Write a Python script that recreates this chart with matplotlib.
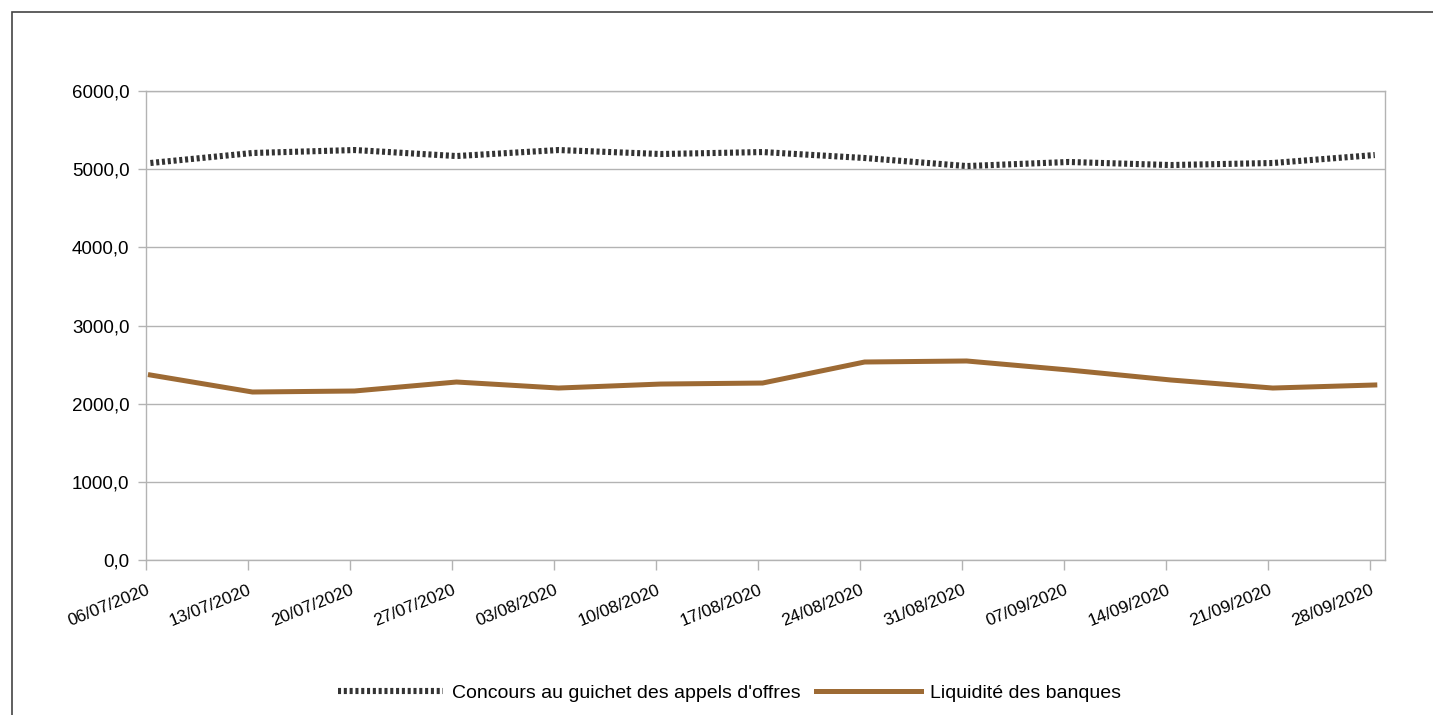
import numpy as np
import matplotlib
matplotlib.use("Agg")
import matplotlib.pyplot as plt
import matplotlib.transforms as mtransforms
from matplotlib.patches import Rectangle
from matplotlib.ticker import FuncFormatter

# Données
dates = ["06/07/2020", "13/07/2020", "20/07/2020", "27/07/2020", "03/08/2020",
         "10/08/2020", "17/08/2020", "24/08/2020", "31/08/2020", "07/09/2020",
         "14/09/2020", "21/09/2020", "28/09/2020"]
concours = [5079, 5207, 5245, 5168, 5245, 5194, 5219, 5143, 5040, 5092, 5053, 5079, 5181]
liquidite = [2367, 2149, 2162, 2277, 2200, 2251, 2264, 2533, 2546, 2431, 2303, 2200, 2239]

plt.rcParams['font.family'] = ['Liberation Sans', 'DejaVu Sans']

jours = np.arange(len(dates)) * 7
grille = '#b3b3b3'

fig = plt.figure(figsize=(14.33, 7.15), dpi=100)
ax = fig.add_axes([0.1019, 0.2168, 0.8646, 0.6559])

ax.plot(jours + 0.3, concours, color='#333333', lw=4.4, dashes=(0.5, 0.45),
        dash_capstyle='butt',
        label="Concours au guichet des appels d'offres")
ax.plot(jours + 0.3, liquidite, color='#9d6a34', lw=3.6,
        solid_joinstyle='miter', label="Liquidité des banques")

ax.set_xlim(0, 85)
ax.set_ylim(0, 6000)
ax.set_yticks(np.arange(0, 6001, 1000))
ax.yaxis.set_major_formatter(FuncFormatter(lambda v, p: f"{v:.1f}".replace('.', ',')))
ax.set_xticks(jours)
ax.set_xticklabels(dates, rotation=22, ha='right', rotation_mode='anchor')

# les étiquettes de dates sont légèrement décalées vers la droite
decal = mtransforms.ScaledTranslation(9 / 100, 0, fig.dpi_scale_trans)
for lab in ax.get_xticklabels():
    lab.set_transform(lab.get_transform() + decal)

ax.grid(axis='y', color=grille, lw=1)
ax.set_axisbelow(True)
for s in ax.spines.values():
    s.set_color(grille)
    s.set_linewidth(1)
ax.tick_params(axis='y', colors=grille, labelcolor='black', length=6, width=1,
               labelsize=13.5, pad=6)
ax.tick_params(axis='x', colors=grille, labelcolor='black', length=7, width=1,
               labelsize=12.5, pad=9)

leg = fig.legend(loc='center', bbox_to_anchor=(0.509, 1 - 693 / 715), ncol=2,
                 frameon=False, fontsize=14, handlelength=5.4,
                 handletextpad=0.5, columnspacing=0.75)

# cadre extérieur
fig.patches.append(Rectangle((12 / 1433, -0.05), 1.1, 1 - 12 / 715 + 0.05,
                             transform=fig.transFigure, fill=False,
                             edgecolor='#444444', lw=1.2, clip_on=False))

fig.savefig("out.png", dpi=100)
